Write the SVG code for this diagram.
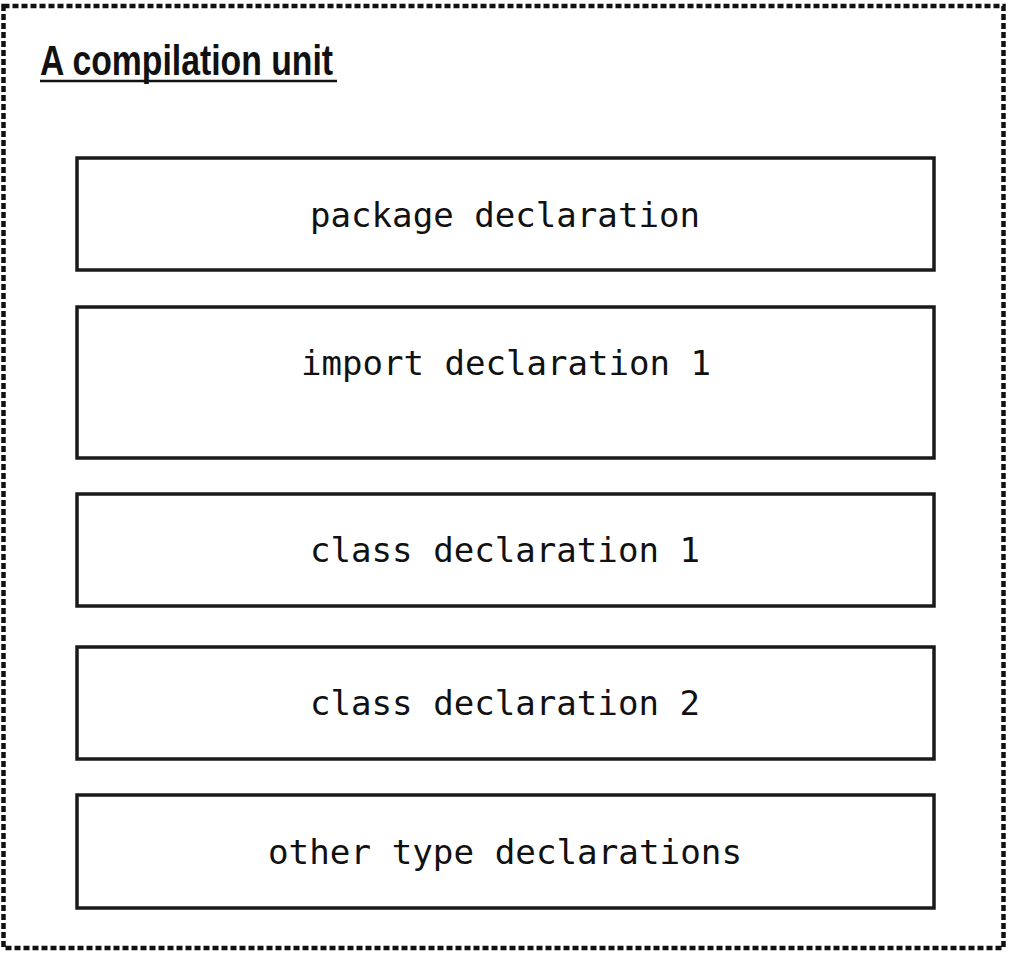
<svg xmlns="http://www.w3.org/2000/svg" width="1009" height="954" viewBox="0 0 1009 954">
<style>
.box{fill:#fff;stroke:#1a1a1a;stroke-width:3.5}
.lbl{font-family:"DejaVu Sans Mono","Liberation Mono",monospace;font-size:33px;fill:#111;text-anchor:middle}
.title{font-family:"Liberation Sans",Arial,sans-serif;font-weight:bold;font-size:42px;fill:#111}
</style>
<rect width="1009" height="954" fill="#fff"/>
<g id="unit">
<rect x="3.5" y="6" width="1000" height="942" fill="none" stroke="#111" stroke-width="4.5" stroke-dasharray="6 3"/>
<text class="title" x="40" y="75" textLength="293" lengthAdjust="spacingAndGlyphs">A compilation unit</text>
<line x1="40" y1="81" x2="337" y2="81" stroke="#111" stroke-width="2.5"/>
</g>
<g id="package">
<rect class="box" x="77" y="158" width="857" height="112"/>
<text class="lbl" x="505" y="227" textLength="390" lengthAdjust="spacingAndGlyphs">package declaration</text>
</g>
<g id="import">
<rect class="box" x="77" y="307" width="857" height="151"/>
<text class="lbl" x="506" y="375" textLength="410" lengthAdjust="spacingAndGlyphs">import declaration 1</text>
</g>
<g id="class1">
<rect class="box" x="77" y="494" width="857" height="112"/>
<text class="lbl" x="505" y="562" textLength="390" lengthAdjust="spacingAndGlyphs">class declaration 1</text>
</g>
<g id="class2">
<rect class="box" x="77" y="647" width="857" height="112"/>
<text class="lbl" x="505" y="715" textLength="390" lengthAdjust="spacingAndGlyphs">class declaration 2</text>
</g>
<g id="other">
<rect class="box" x="77" y="795" width="857" height="113"/>
<text class="lbl" x="505" y="864" textLength="474" lengthAdjust="spacingAndGlyphs">other type declarations</text>
</g>
<g id="connectors"></g>
</svg>
